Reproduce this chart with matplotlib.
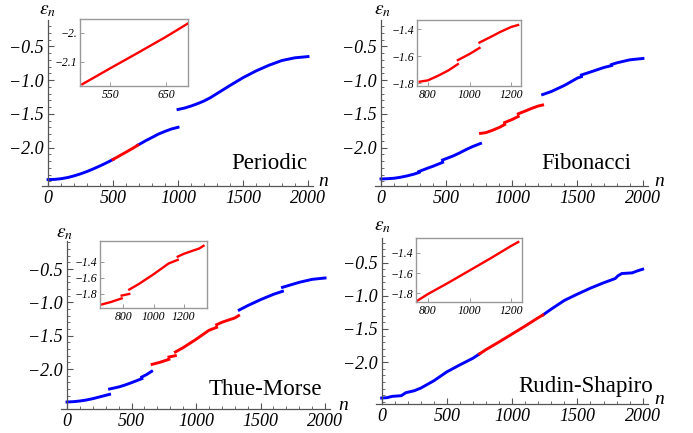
import numpy as np
import matplotlib
matplotlib.use("Agg")
from matplotlib import pyplot as plt
from matplotlib.ticker import FixedLocator, FixedFormatter, MultipleLocator

nan = np.nan

# Periodic
per_blue1_n = [0, 50, 100, 150, 200, 250, 300, 350, 400, 450, 500]
per_blue1_e = [-2.475, -2.472, -2.462, -2.445, -2.42, -2.39, -2.355, -2.315, -2.272, -2.226, -2.177]
per_red_n = [500, 550, 600, 650, 690]
per_red_e = [-2.177, -2.122, -2.068, -2.013, -1.966]
per_blue2_n = [690, 750, 800, 850, 900, 950, 1000, nan, 1000, 1050, 1100, 1150, 1200, 1250, 1300, 1350,
               1400, 1500, 1600, 1700, 1800, 1900, 2000]
per_blue2_e = [-1.966, -1.90, -1.85, -1.80, -1.76, -1.725, -1.70, nan, -1.436, -1.415, -1.385, -1.35, -1.31,
               -1.26, -1.20, -1.14, -1.08, -0.965, -0.865, -0.78, -0.71, -0.67, -0.652]

# Fibonacci
fib_blue1_n = [0, 50, 100, 150, 200, 250, 290, nan, 290, 350, 400, 470, nan, 470, 550, 600, 650, 700, 760]
fib_blue1_e = [-2.465, -2.462, -2.455, -2.44, -2.42, -2.395, -2.37, nan, -2.355, -2.31, -2.275, -2.22, nan, -2.185, -2.125, -2.08, -2.03, -1.985, -1.94]
fib_red_n = [760, 800, 850, 900, 944, nan, 944, 1000, 1048, nan, 1048, 1100, 1150, 1200, 1234]
fib_red_e = [-1.79, -1.78, -1.745, -1.705, -1.66, nan, -1.63, -1.585, -1.54, nan, -1.50, -1.46, -1.42, -1.385, -1.37]
fib_blue2_n = [1234, 1300, 1400, 1500, 1530, nan, 1530, 1600, 1700, 1760, nan, 1760, 1800, 1900, 2000]
fib_blue2_e = [-1.215, -1.17, -1.08, -0.97, -0.95, nan, -0.925, -0.88, -0.815, -0.785, nan, -0.77, -0.745, -0.70, -0.68]

# Thue-Morse
tm_blue1_n = [0, 50, 100, 150, 200, 250, 330, nan, 330, 400, 450, 500, 580, nan, 580, 620, 656]
tm_blue1_e = [-2.495, -2.49, -2.48, -2.465, -2.445, -2.42, -2.38, nan, -2.30, -2.27, -2.24, -2.205, -2.145, nan, -2.12, -2.08, -2.035]
tm_red_n = [660, 720, 790, nan, 790, 840, nan, 840, 900, 1000, 1100, 1160, nan, 1160, 1200, 1260, 1300, 1330]
tm_red_e = [-1.93, -1.90, -1.855, nan, -1.82, -1.80, nan, -1.745, -1.68, -1.555, -1.42, -1.375, nan, -1.335, -1.30, -1.26, -1.235, -1.20]
tm_blue2_n = [1335, 1400, 1500, 1600, 1670, nan, 1670, 1800, 1900, 2000]
tm_blue2_e = [-1.115, -1.05, -0.96, -0.88, -0.835, nan, -0.775, -0.70, -0.655, -0.635]

# Rudin-Shapiro
rs_blue1_n = [0, 40, 80, 150, 185, 250, 300, 400, 500, 600, 700, 750]
rs_blue1_e = [-2.54, -2.535, -2.515, -2.505, -2.46, -2.43, -2.39, -2.28, -2.145, -2.04, -1.94, -1.875]
rs_red_n = [750, 800, 900, 1000, 1100, 1200, 1235]
rs_red_e = [-1.875, -1.81, -1.695, -1.575, -1.455, -1.33, -1.29]
rs_blue2_n = [1235, 1300, 1400, 1500, 1600, 1700, 1790, 1810, 1840, 1920, 1960, 2000]
rs_blue2_e = [-1.29, -1.20, -1.07, -0.975, -0.885, -0.805, -0.74, -0.70, -0.665, -0.655, -0.625, -0.60]

names = ["Periodic", "Fibonacci", "Thue-Morse", "Rudin-Shapiro"]
blue_sets = [
    [(per_blue1_n, per_blue1_e), (per_blue2_n, per_blue2_e)],
    [(fib_blue1_n, fib_blue1_e), (fib_blue2_n, fib_blue2_e)],
    [(tm_blue1_n, tm_blue1_e), (tm_blue2_n, tm_blue2_e)],
    [(rs_blue1_n, rs_blue1_e), (rs_blue2_n, rs_blue2_e)],
]
red_sets = [(per_red_n, per_red_e), (fib_red_n, fib_red_e), (tm_red_n, tm_red_e), (rs_red_n, rs_red_e)]

main_yticks = [-2.0, -1.5, -1.0, -0.5]
main_ylabels = ["\u22122.0", "\u22121.5", "\u22121.0", "\u22120.5"]
main_xticks = [0, 500, 1000, 1500, 2000]

inset_xticks = [[550, 650], [800, 1000, 1200], [800, 1000, 1200], [800, 1000, 1200]]
inset_yticks = [[-2.1, -2.0], [-1.8, -1.6, -1.4], [-1.8, -1.6, -1.4], [-1.8, -1.6, -1.4]]
inset_ylabels = [["\u22122.1", "\u22122."], ["\u22121.8", "\u22121.6", "\u22121.4"],
                 ["\u22121.8", "\u22121.6", "\u22121.4"], ["\u22121.8", "\u22121.6", "\u22121.4"]]

W, H = 693, 433
plt.rcParams['mathtext.fontset'] = 'stix'
fig = plt.figure(figsize=(W / 100, H / 100), dpi=100)

def box(l, t, r, b):
    return [l / W, 1 - b / H, (r - l) / W, (b - t) / H]

# pixel boxes and limits of the main panels
main_boxes = [(42.2, 20, 313.2, 186), (375.1, 20, 648.2, 186),
              (61.2, 241, 330.2, 409), (375.8, 238, 647.9, 404)]
main_ylims = [(-2.57, -0.11), (-2.57, -0.11), (-2.60, -0.08), (-2.63, -0.13)]
inset_boxes = [(80, 19, 188, 86), (417, 20, 521, 86), (100, 241, 207, 308), (416, 238, 522, 302)]
inset_xlims = [(496, 689), (747, 1248), (647, 1353), (742, 1253)]
inset_ylims = [(-2.183, -1.952), (-1.822, -1.333), (-1.975, -1.14), (-1.89, -1.25)]
name_pos = [(307, 169), (631, 169), (322, 395), (653, 392)]
eps_pos = [(48, 0), (383, 0), (65, 223), (383, 216)]
n_pos = [(323, 181), (659, 181), (343, 405), (659, 400)]

tick_font = dict(family="Liberation Serif", style="italic")
axis_col = "#555555"

for i in range(4):
    ax = fig.add_axes(box(*main_boxes[i]))
    for n_vals, e_vals in blue_sets[i]:
        ax.plot(n_vals, e_vals, color="blue", lw=2.1, solid_capstyle="projecting")
    ax.plot(red_sets[i][0], red_sets[i][1], color="red", lw=2.1, solid_capstyle="projecting")
    ax.set_xlim(-45, 2040)
    ax.set_ylim(*main_ylims[i])
    ax.spines['top'].set_visible(False)
    ax.spines['right'].set_visible(False)
    ax.spines['left'].set_position(('data', 0))
    for s in ['left', 'bottom']:
        ax.spines[s].set_color(axis_col)
        ax.spines[s].set_linewidth(0.9)
    ax.yaxis.set_major_locator(FixedLocator(main_yticks))
    ax.yaxis.set_major_formatter(FixedFormatter(main_ylabels))
    ax.yaxis.set_minor_locator(MultipleLocator(0.1))
    ax.xaxis.set_major_locator(FixedLocator(main_xticks))
    ax.xaxis.set_minor_locator(MultipleLocator(100))
    ax.tick_params(direction="in", length=4, width=0.8, color=axis_col, labelsize=13)
    ax.tick_params(which="minor", direction="in", length=2, width=0.6, color=axis_col)
    ax.tick_params(axis="x", pad=3)
    ax.tick_params(axis="y", pad=3)
    for lab in ax.get_xticklabels() + ax.get_yticklabels():
        lab.set_fontfamily("Liberation Serif")
        lab.set_fontstyle("italic")

    ins = fig.add_axes(box(*inset_boxes[i]))
    ins.plot(red_sets[i][0], red_sets[i][1], color="red", lw=1.7, solid_capstyle="projecting")
    ins.set_xlim(*inset_xlims[i])
    ins.set_ylim(*inset_ylims[i])
    for s in ins.spines.values():
        s.set_color("#999999")
        s.set_linewidth(1.0)
    ins.xaxis.set_major_locator(FixedLocator(inset_xticks[i]))
    ins.yaxis.set_major_locator(FixedLocator(inset_yticks[i]))
    ins.yaxis.set_major_formatter(FixedFormatter(inset_ylabels[i]))
    ins.tick_params(direction="in", length=3, width=0.6, color="#888888", labelsize=8.5, pad=2)
    for lab in ins.get_xticklabels() + ins.get_yticklabels():
        lab.set_fontfamily("Liberation Serif")
        lab.set_fontstyle("italic")

    fig.text(name_pos[i][0] / W, 1 - name_pos[i][1] / H, names[i], ha="right", va="baseline",
             fontsize=16.5, family="Liberation Serif")
    fig.text(eps_pos[i][0] / W, 1 - eps_pos[i][1] / H, r"$\epsilon_n$", ha="center", va="top", fontsize=14)
    fig.text(n_pos[i][0] / W, 1 - n_pos[i][1] / H, "n", ha="center", va="center", fontsize=14, **tick_font)

fig.savefig("out.png", dpi=100)
